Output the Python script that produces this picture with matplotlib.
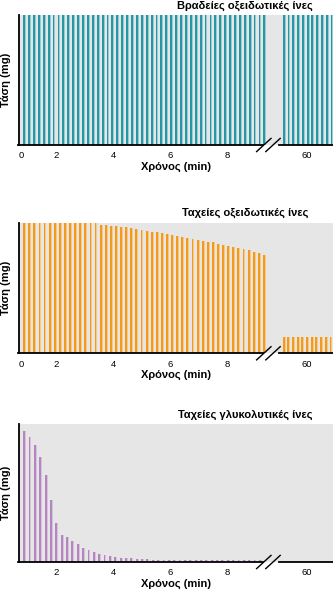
import numpy as np
import matplotlib
matplotlib.use("Agg")
import matplotlib.pyplot as plt
from matplotlib.lines import Line2D

plt.rcParams['font.family'] = ['Liberation Sans', 'DejaVu Sans']

# --- data -----------------------------------------------------------------
titles = ["Βραδείες οξειδωτικές ίνες",
          "Ταχείες οξειδωτικές ίνες",
          "Ταχείες γλυκολυτικές ίνες"]
xlabel = "Χρόνος (min)"
ylabel = "Τάση (mg)"

# stimulus times (min), first 9 minutes and around minute 60
slow_t = np.arange(50) * 0.172 + 0.85
slow_t60 = np.arange(11) * 0.168 + 59.16
slow_force = [100] * 50
slow_force60 = [100] * 11

fox_t = np.arange(48) * 0.179 + 0.85
fox_t60 = np.arange(11) * 0.164 + 59.16
fox_force = [100] * 15 + [
    98.5, 98.0, 97.5, 97.1, 96.9, 96.9, 96.2, 95.2, 94.4, 93.6,
    93.1, 92.6, 92.3, 91.3, 90.4, 89.6, 88.8, 88.3, 87.5, 86.8,
    86.2, 85.5, 85.0, 83.9, 83.2, 82.4, 81.4, 80.6, 79.9, 79.1,
    77.8, 76.6, 75.0]
fox_force60 = [12.7] * 11

fg_t = np.arange(45) * 0.188 + 0.85
fg_force = [94.9, 90.8, 85.1, 76.3, 63.0, 44.8, 28.3, 19.9, 17.9, 15.5,
            12.9, 9.9, 8.8, 7.0, 5.9, 5.1, 4.0, 3.6, 3.1, 2.8,
            2.6, 2.4, 2.2, 1.9, 1.8, 1.7, 1.6, 1.5, 1.5, 1.4,
            1.4, 1.4, 1.3, 1.3, 1.3, 1.3, 1.3, 1.2, 1.2, 1.2,
            1.2, 1.2, 1.2, 1.2, 1.2]
fg_t60 = []
fg_force60 = []

left_ticks = [2, 4, 6, 8]
right_ticks = [60]

colors = [("#2797a6", "#94cdd4"), ("#f39a1c", "#f8c983"), ("#b486bf", "#d9c2de")]

panels = [
    (slow_t, slow_force, slow_t60, slow_force60, True),
    (fox_t, fox_force, fox_t60, fox_force60, True),
    (fg_t, fg_force, fg_t60, fg_force60, False),
]

# --- layout (pixels of a 333x590 figure) ----------------------------------
W, H = 333, 590
fig = plt.figure(figsize=(W / 100, H / 100), dpi=100)
bg = "#e6e6e6"
px_min = 28.5            # pixels per minute
x_left, x_break = 18.5, 268
left_lim = (2 - (56 - x_left) / px_min, 2 + (x_break - 56) / px_min)
right_lim = (60 - (306.7 - x_break) / px_min, 60 + (W - 306.7) / px_min)

boxes = [(15, 145), (222.7, 353.3), (424, 562)]


def fx(x):
    return x / W


def fy(y):
    return 1 - y / H


for k, ((t, f, t60, f60, zero), (top, bot)) in enumerate(zip(panels, boxes)):
    dark, light = colors[k]
    axl = fig.add_axes([fx(x_left), fy(bot), fx(x_break - x_left), (bot - top) / H])
    axr = fig.add_axes([fx(x_break), fy(bot), fx(W - x_break), (bot - top) / H])
    for ax, tt, ff, lim in ((axl, t, f, left_lim), (axr, t60, f60, right_lim)):
        ax.set_facecolor(bg)
        if len(tt):
            ax.bar(tt, ff, width=0.1, color=light, align="edge", linewidth=0)
            ax.bar(tt, ff, width=0.065, color=dark, align="edge", linewidth=0)
        ax.set_xlim(*lim)
        ax.set_ylim(0, 100)
        ax.set_yticks([])
        for s in ("top", "right"):
            ax.spines[s].set_visible(False)
        ax.spines["bottom"].set_linewidth(1.3)
        ax.tick_params(axis="x", length=0, pad=4.5, labelsize=6.8)

    axl.spines["left"].set_linewidth(1.3)
    axr.spines["left"].set_visible(False)
    axl.spines["bottom"].set_bounds(left_lim[0], 9.25)
    axr.spines["bottom"].set_bounds(59.03, right_lim[1])

    ticks = list(left_ticks)
    labels = [str(v) for v in left_ticks]
    if zero:
        ticks = [left_lim[0] + 0.08] + ticks
        labels = ["0"] + labels
    axl.set_xticks(ticks, labels)
    axr.set_xticks(right_ticks, [str(v) for v in right_ticks])

    # axis break marks
    for cx in (263.8, 273.0):
        fig.add_artist(Line2D([fx(cx - 7.2), fx(cx + 7.2)],
                              [fy(bot + 6.6), fy(bot - 6.6)],
                              color="black", lw=1.0))

    fig.text(fx(245), fy(top - 9.5), titles[k], ha="center", va="center",
             fontsize=8, fontweight="bold")
    fig.text(fx(176), fy(bot + 22), xlabel, ha="center", va="center",
             fontsize=8, fontweight="bold")
    fig.text(fx(6.5), fy((top + bot) / 2), ylabel, ha="center", va="center",
             rotation=90, fontsize=8, fontweight="bold")

fig.savefig("out.png", dpi=100)
